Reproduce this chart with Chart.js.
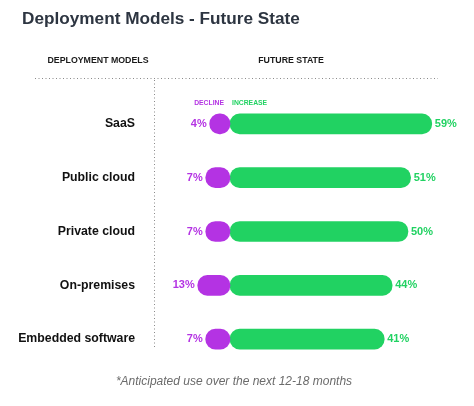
<!DOCTYPE html>
<html>
<head>
<meta charset="utf-8">
<title>Deployment Models - Future State</title>
<script src="https://cdn.jsdelivr.net/npm/chart.js@4/dist/chart.umd.min.js"></script>
<style>
  html, body { margin: 0; padding: 0; background: #fff; }
  canvas { display: block; }
</style>
</head>
<body>
<canvas id="dvCanvas" width="474" height="406"></canvas>
<script>
  'use strict';

  var categories = ['SaaS', 'Public cloud', 'Private cloud', 'On-premises', 'Embedded software'];
  var declineValues = [4, 7, 7, 13, 7];
  var increaseValues = [59, 51, 50, 44, 41];

  var FONT = '"Liberation Sans", Arial, sans-serif';
  var PURPLE = '#b433e3';
  var GREEN = '#21d262';

  // plot area edges (set by layout padding + fixed y axis width)
  var AREA_LEFT = 160, AREA_RIGHT = 452;
  // the infographic is not drawn to a pure linear scale: each bar gets
  // a fixed lead-in plus a per-percent length, measured off the original
  var JUNCTION = 230;
  var incLead = 46, incPerPct = 2.64;
  var decLead = 15, decPerPct = 1.33;

  // increase axis: pixel = JUNCTION + incLead + incPerPct * v
  var incMin = (AREA_LEFT - JUNCTION - incLead) / incPerPct;
  var incMax = (AREA_RIGHT - JUNCTION - incLead) / incPerPct;
  var incBase = -incLead / incPerPct;
  // decline axis (reversed): pixel = JUNCTION - decLead - decPerPct * v
  var decMax = (JUNCTION - decLead - AREA_LEFT) / decPerPct;
  var decMin = (JUNCTION - decLead - AREA_RIGHT) / decPerPct;
  var decBase = -decLead / decPerPct;

  var decorPlugin = {
    id: 'decor',
    beforeDraw: function(chart) {
      var ctx = chart.ctx;
      ctx.save();
      // title
      ctx.fillStyle = '#2d3541';
      ctx.font = 'bold 17.2px ' + FONT;
      ctx.textBaseline = 'middle';
      ctx.textAlign = 'left';
      ctx.fillText('Deployment Models - Future State', 22, 19);
      // column headers
      ctx.fillStyle = '#1a1a1a';
      ctx.font = 'bold 8.8px ' + FONT;
      ctx.textAlign = 'center';
      ctx.fillText('DEPLOYMENT MODELS', 98, 61);
      ctx.fillText('FUTURE STATE', 291, 61);
      // dotted rules
      ctx.strokeStyle = '#8a8a8a';
      ctx.lineWidth = 1;
      ctx.setLineDash([1, 2.5]);
      ctx.beginPath();
      ctx.moveTo(35, 78.5);
      ctx.lineTo(438, 78.5);
      ctx.moveTo(154.5, 80);
      ctx.lineTo(154.5, 349);
      ctx.stroke();
      ctx.setLineDash([]);
      // footnote
      ctx.fillStyle = '#6b6b6b';
      ctx.font = 'italic 12px ' + FONT;
      ctx.textAlign = 'center';
      ctx.fillText('*Anticipated use over the next 12-18 months', 234, 382);
      ctx.restore();
    },
    afterDatasetsDraw: function(chart) {
      var ctx = chart.ctx;
      var decMeta = chart.getDatasetMeta(0);
      var incMeta = chart.getDatasetMeta(1);
      ctx.save();
      ctx.textBaseline = 'middle';
      ctx.font = 'bold 11px ' + FONT;
      decMeta.data.forEach(function(bar, i) {
        ctx.fillStyle = PURPLE;
        ctx.textAlign = 'right';
        ctx.fillText(declineValues[i] + '%', bar.x - 3, bar.y);
      });
      incMeta.data.forEach(function(bar, i) {
        ctx.fillStyle = GREEN;
        ctx.textAlign = 'left';
        ctx.fillText(increaseValues[i] + '%', bar.x + 3, bar.y);
      });
      // small legend above the first row
      var first = incMeta.data[0];
      ctx.font = 'bold 6.8px ' + FONT;
      ctx.fillStyle = PURPLE;
      ctx.textAlign = 'right';
      ctx.fillText('DECLINE', first.base - 6, first.y - 21);
      ctx.fillStyle = GREEN;
      ctx.textAlign = 'left';
      ctx.fillText('INCREASE', first.base + 2, first.y - 21);
      ctx.restore();
    }
  };

  var ctx = document.getElementById('dvCanvas').getContext('2d');
  var myChart = new Chart(ctx, {
    type: 'bar',
    data: {
      labels: categories,
      datasets: [
        {
          label: 'Decline',
          data: declineValues,
          xAxisID: 'xDec',
          base: decBase,
          backgroundColor: PURPLE,
          borderRadius: 10,
          borderSkipped: false,
          barThickness: 20,
          grouped: false
        },
        {
          label: 'Increase',
          data: increaseValues,
          xAxisID: 'xInc',
          base: incBase,
          backgroundColor: GREEN,
          borderRadius: 10,
          borderSkipped: false,
          barThickness: 20,
          grouped: false
        }
      ]
    },
    options: {
      indexAxis: 'y',
      responsive: false,
      animation: false,
      devicePixelRatio: 1,
      layout: { padding: { top: 97, bottom: 40, left: 2, right: 22 } },
      plugins: {
        legend: { display: false },
        tooltip: { enabled: false }
      },
      scales: {
        y: {
          type: 'category',
          grid: { display: false, drawTicks: false },
          border: { display: false },
          afterFit: function(scale) { scale.width = 158; },
          ticks: {
            color: '#111',
            padding: 25,
            font: { family: FONT, size: 12.3, weight: 'bold' }
          }
        },
        xInc: {
          type: 'linear',
          position: 'bottom',
          display: false,
          min: incMin,
          max: incMax
        },
        xDec: {
          type: 'linear',
          position: 'bottom',
          display: false,
          reverse: true,
          min: decMin,
          max: decMax
        }
      }
    },
    plugins: [decorPlugin]
  });
</script>
</body>
</html>
